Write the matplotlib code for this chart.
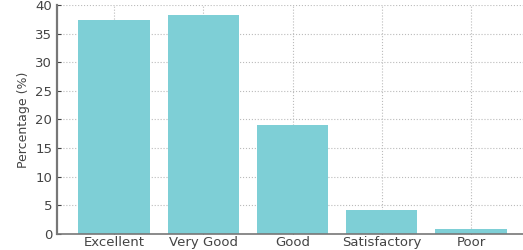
import matplotlib
matplotlib.use("Agg")
import matplotlib.pyplot as plt

categories = ["Excellent", "Very Good", "Good", "Satisfactory", "Poor"]
percentages = [37.4, 38.3, 19.1, 4.2, 0.9]
yticks = [0, 5, 10, 15, 20, 25, 30, 35, 40]

fig = plt.figure(figsize=(5.23, 2.5), dpi=100)
ax = fig.add_axes([57/523, 16/250, 471/523, 229/250])
ax.bar(categories, percentages, width=0.8, color="#7ecfd6", zorder=2)
ax.set_ylim(0, 40)
ax.set_xlim(-0.64, 4.64)
ax.set_yticks(yticks)
ax.set_ylabel("Percentage (%)", fontsize=9, color="#444444", labelpad=4)
ax.grid(True, linestyle=":", color="#bbbbbb", linewidth=0.8, zorder=0)
for s in ["top", "right"]:
    ax.spines[s].set_visible(False)
ax.spines["left"].set_color("#777777")
ax.spines["left"].set_linewidth(1.6)
ax.spines["bottom"].set_color("#777777")
ax.spines["bottom"].set_linewidth(1.2)
ax.tick_params(direction="in", labelsize=9.5, labelcolor="#444444", colors="#444444", length=3)
ax.tick_params(axis="x", pad=1.5)
fig.savefig("out.png", dpi=100)
